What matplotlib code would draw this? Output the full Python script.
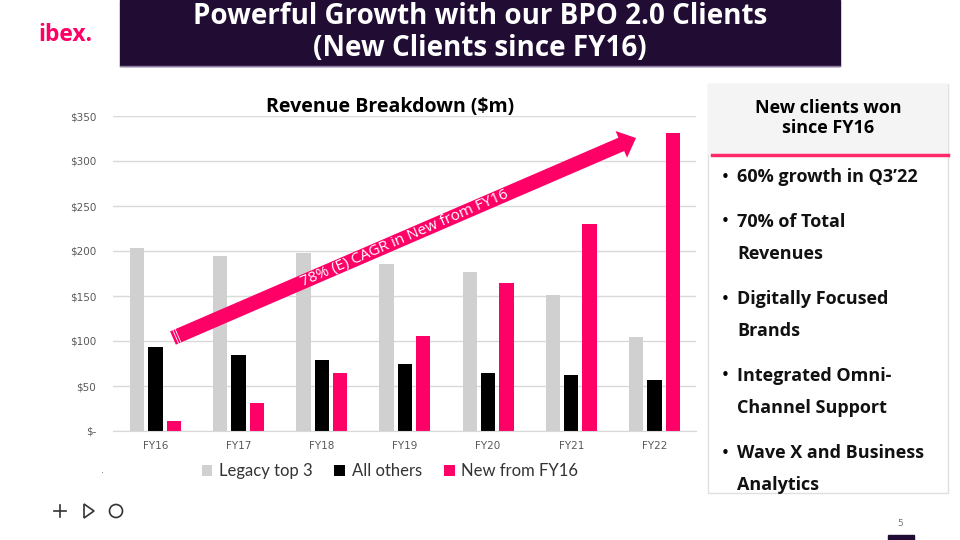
import matplotlib
matplotlib.use('Agg')
import matplotlib.pyplot as plt
import numpy as np
from matplotlib.patches import Rectangle, FancyArrow, Polygon, Circle

PINK = '#FF0066'; GRAY = '#D0D0D0'; DARK = '#210D33'; GRID = '#D9D9D9'

years = ['FY16', 'FY17', 'FY18', 'FY19', 'FY20', 'FY21', 'FY22']
legacy_top3 = [203, 194, 198, 186, 177, 151, 104]
all_others = [93, 85, 79, 75, 64, 62, 57]
new_from_fy16 = [11, 31, 65, 106, 164, 230, 331]
yticks = [0, 50, 100, 150, 200, 250, 300, 350]
ytick_labels = ['$-', '$50', '$100', '$150', '$200', '$250', '$300', '$350']

bullets = [['60% growth in Q3\u201922'],
           ['70% of Total', 'Revenues'],
           ['Digitally Focused', 'Brands'],
           ['Integrated Omni-', 'Channel Support'],
           ['Wave X and Business', 'Analytics']]

fig = plt.figure(figsize=(9.6, 5.4), dpi=100)
fig.patch.set_facecolor('white')

# ---- bar chart ----
ax = fig.add_axes([113/960, 109/540, 583/960, 315/540])
x = np.arange(len(years))
w = 0.172; off = 0.22
ax.bar(x - off, legacy_top3, w, color=GRAY, label='Legacy top 3', zorder=2)
ax.bar(x, all_others, w, color='black', label='All others', zorder=2)
ax.bar(x + off, new_from_fy16, w, color=PINK, label='New from FY16', zorder=2)
ax.set_xlim(-0.51, 6.5); ax.set_ylim(0, 350)
ax.set_yticks(yticks); ax.set_yticklabels(ytick_labels)
ax.set_xticks(x); ax.set_xticklabels(years)
ax.tick_params(length=0, labelsize=7.5, labelcolor='#595959')
ax.tick_params(axis='y', pad=12)
ax.tick_params(axis='x', pad=7)
ax.grid(axis='y', color=GRID, lw=1, zorder=0)
for s in ['top', 'right', 'left']:
    ax.spines[s].set_visible(False)
ax.spines['bottom'].set_color(GRID)
ax.legend(loc='upper center', bbox_to_anchor=(0.475, -0.055), ncol=3, frameon=False,
          handlelength=0.65, handleheight=0.65, handletextpad=0.4,
          columnspacing=1.3, labelcolor='#333333', prop={'family': 'Lato', 'size': 12})

# ---- overlay in pixel coords ----
ov = fig.add_axes([0, 0, 1, 1], zorder=5)
ov.set_xlim(0, 960); ov.set_ylim(540, 0); ov.axis('off')

# header
ov.add_patch(Rectangle((120, 0), 720, 66, color=DARK))
ov.plot([120, 840], [66, 66], color='#8E7BA0', lw=1)
ov.text(480, 17, 'Powerful Growth with our BPO 2.0 Clients', color='white', fontsize=20,
        fontweight='bold', family='Open Sans', ha='center', va='center')
ov.text(480, 48, '(New Clients since FY16)', color='white', fontsize=20,
        fontweight='bold', family='Open Sans', ha='center', va='center')
ov.text(65, 35, 'ibex.', color=PINK, fontsize=16.5, fontweight='bold', family='Open Sans',
        ha='center', va='center')

ov.text(390, 107, 'Revenue Breakdown ($m)', fontsize=14, fontweight='bold',
        family='Open Sans', ha='center', va='center')

# arrow
ov.add_patch(FancyArrow(173, 338, 463, -200, width=14.5, head_width=29, head_length=16,
                        length_includes_head=True, color=PINK, lw=0))
ang = np.arctan2(200, 463)
nx, ny = np.sin(ang), np.cos(ang)
for d in (3, 5.5):
    cx, cy = 173 + d*np.cos(ang), 338 - d*np.sin(ang)
    ov.plot([cx - 7*nx, cx + 7*nx], [cy - 7*ny, cy + 7*ny], color='white', lw=0.6)
ov.text(405, 238, '78% (E) CAGR in New from FY16', color='white', fontsize=11,
        family='Open Sans', rotation=np.degrees(ang), rotation_mode='anchor',
        ha='center', va='center')

# right panel
ov.add_patch(Rectangle((708, 84), 240, 409, facecolor='white', edgecolor='#E0E0E0', lw=1))
ov.add_patch(Rectangle((708, 84), 240, 71, facecolor='#F4F4F4', edgecolor='none'))
ov.plot([712, 948], [155, 155], color='#FF2A6A', lw=2.5)
ov.text(828, 118, 'New clients won\nsince FY16', fontsize=13, fontweight='bold',
        family='Open Sans', ha='center', va='center', linespacing=1.2)
y = 177
for item in bullets:
    ov.text(725, y, '\u2022', fontsize=11, ha='center', va='center')
    for line in item:
        ov.text(737, y, line, fontsize=13, fontweight='bold', family='Open Sans',
                ha='left', va='center', color='#111111')
        y += 32
    y += 13

# footer icons
ov.plot([54, 66], [511, 511], color='#333333', lw=1.2)
ov.plot([60, 60], [505, 517], color='#333333', lw=1.2)
ov.add_patch(Polygon([[84, 504], [84, 518], [94, 511]], closed=True, fill=False,
                     edgecolor='#333333', lw=1.2))
ov.add_patch(Circle((116, 511), 6.5, fill=False, edgecolor='#333333', lw=1.2))
ov.text(103, 473, '.', fontsize=7, color='#777777', ha='center')
ov.text(900, 523, '5', fontsize=6.5, color='#777777', ha='center', va='center')
ov.add_patch(Rectangle((888, 535), 26, 5, color=DARK))

fig.savefig('out.png', dpi=100)
